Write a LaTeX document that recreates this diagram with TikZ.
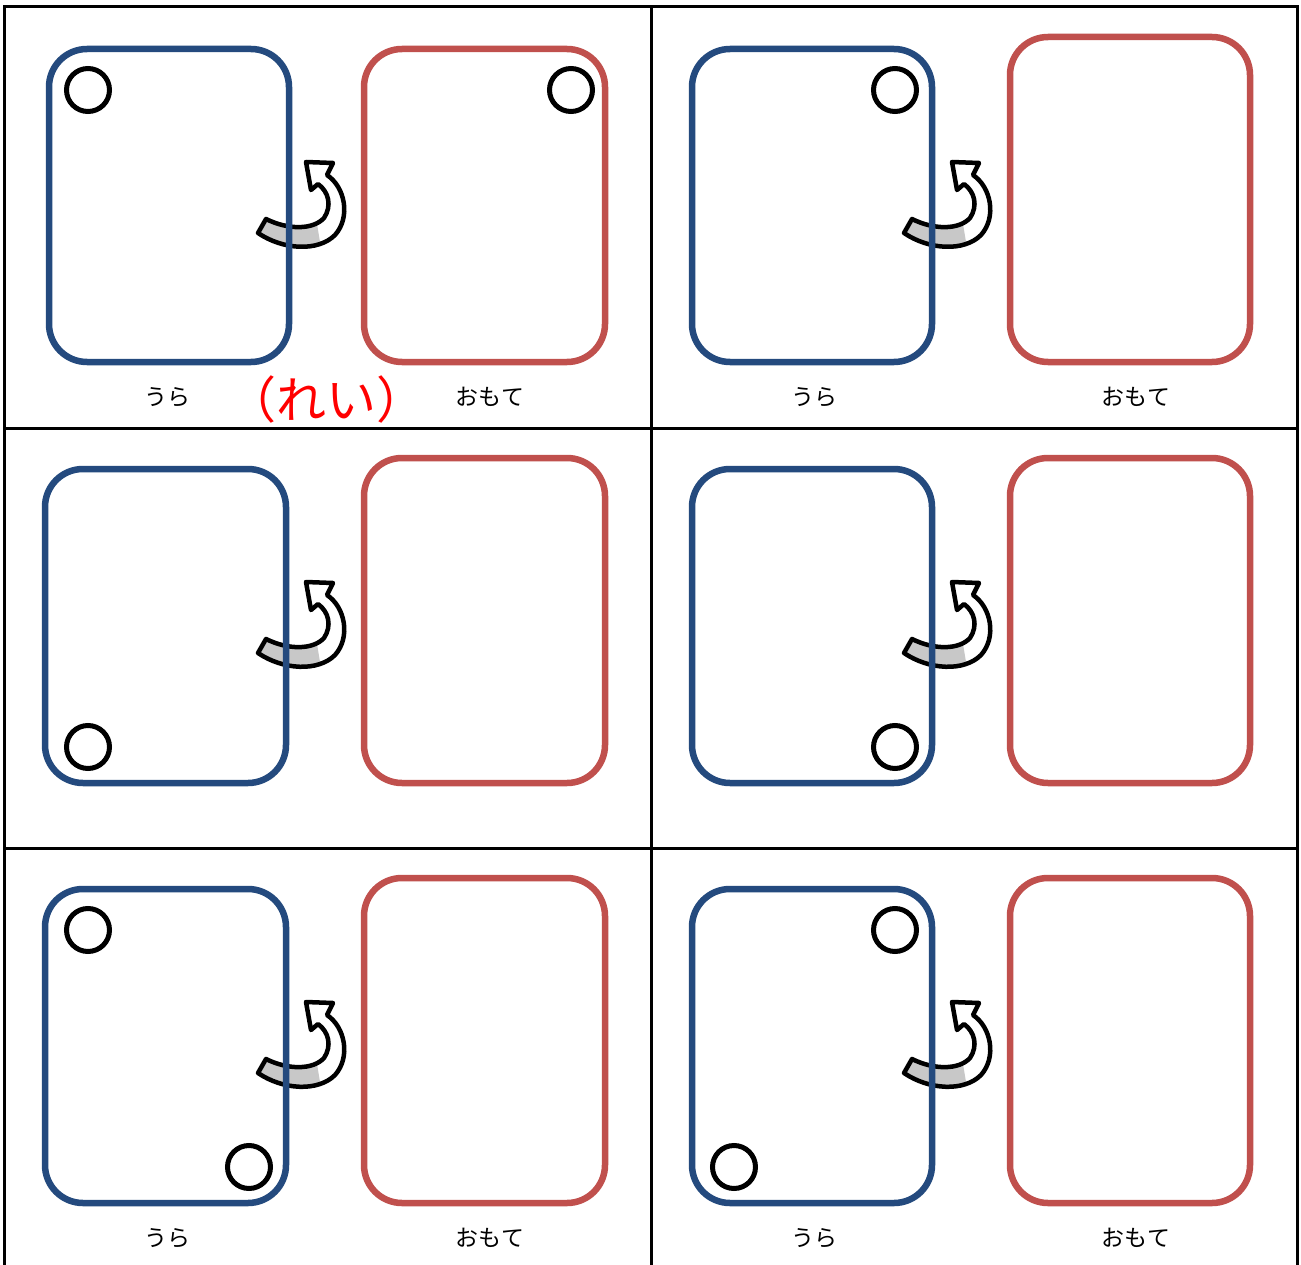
\documentclass[tikz,border=0pt]{standalone}
\usepackage{fontspec}
\newfontfamily\jpfont{Noto Sans CJK JP}
\definecolor{cardblue}{RGB}{36,74,126}
\definecolor{cardred}{RGB}{192,80,77}
\definecolor{arrowgray}{RGB}{200,200,200}
\definecolor{reired}{RGB}{255,0,0}
\def\arrowshape{(266,219) .. controls (288,230) and (313,230) .. (324,218) .. controls (332,206) and (329,192) .. (318,184) -- (311,190) -- (306,162) -- (333,163) -- (327,175) .. controls (345,187) and (351,217) .. (335,235) .. controls (318,252) and (283,250) .. (258,233) -- cycle}
\tikzset{
  frameline/.style={line width=3, black},
  bluecard/.style={line width=6.5, cardblue, rounded corners=38},
  redcard/.style={line width=6.5, cardred, rounded corners=38},
  holemark/.style={line width=5, black},
  labeltext/.style={font=\jpfont\fontsize{23}{27}\selectfont, inner sep=0},
  reitext/.style={font=\jpfont\fontsize{50}{56}\selectfont, text=reired, inner sep=0},
  turnarrow/.pic={
    \fill[white] \arrowshape;
    \begin{scope}
      \clip \arrowshape;
      \fill[arrowgray] (250,200) -- (313,200) -- (323,260) -- (250,260) -- cycle;
    \end{scope}
    \draw[line width=4.5, line join=round] \arrowshape;
  }
}
\begin{document}
\begin{tikzpicture}[x=1pt,y=-1pt]
\useasboundingbox (0,0) rectangle (1301,1265);
\fill[white] (0,0) rectangle (1301,1265);
% frame
\draw[frameline] (4.5,1265) -- (4.5,7) -- (1297,7) -- (1297,1265);
\draw[frameline] (651.5,7) -- (651.5,1265);
\draw[frameline] (4.5,428) -- (1297,428);
\draw[frameline] (4.5,848) -- (1297,848);
% arrows
\foreach \dx/\dy in {0/0,646/0,0/420,646/420,0/840,646/840}{
  \pic[shift={(\dx,\dy)}] {turnarrow};
}
% row 1
\draw[bluecard] (49,49) rectangle (289,362);
\draw[redcard] (364,49) rectangle (605,362);
\draw[bluecard] (692,49) rectangle (932,362);
\draw[redcard] (1010,37) rectangle (1250,362);
% row 2
\draw[bluecard] (45,469) rectangle (286,783);
\draw[redcard] (364,458) rectangle (605,783);
\draw[bluecard] (692,469) rectangle (932,783);
\draw[redcard] (1010,458) rectangle (1250,783);
% row 3
\draw[bluecard] (45,889) rectangle (286,1203);
\draw[redcard] (364,878) rectangle (605,1203);
\draw[bluecard] (692,889) rectangle (932,1203);
\draw[redcard] (1010,878) rectangle (1250,1203);
% holes
\foreach \cx/\cy in {88/90,571/90,895/90,88/747,895/747,88/930,249/1167,895/930,734/1167}{
  \draw[holemark] (\cx,\cy) circle[radius=21.5];
}
% labels
\node[labeltext] (ura1) at (167,397) {うら};
\node[labeltext] (omote1) at (490,397) {おもて};
\node[labeltext] (ura2) at (814,397) {うら};
\node[labeltext] (omote2) at (1136,397) {おもて};
\node[labeltext] (ura3) at (167,1238) {うら};
\node[labeltext] (omote3) at (490,1238) {おもて};
\node[labeltext] (ura4) at (814,1238) {うら};
\node[labeltext] (omote4) at (1136,1238) {おもて};
\node[reitext] (rei) at (326,399) {（れい）};
\end{tikzpicture}
\end{document}
